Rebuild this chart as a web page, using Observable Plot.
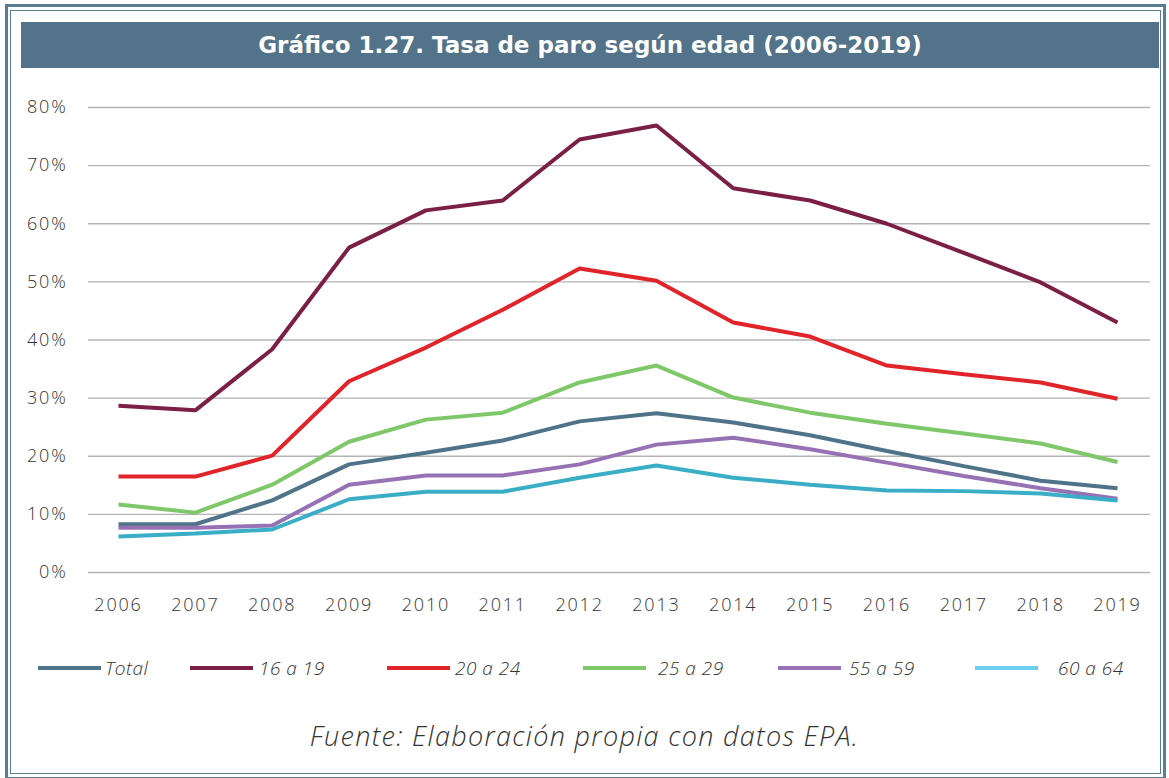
<!DOCTYPE html>
<html>
<head>
<meta charset="utf-8">
<script src="https://cdn.jsdelivr.net/npm/d3@7"></script>
<script src="https://cdn.jsdelivr.net/npm/@observablehq/plot@0.6"></script>
<style>
  html, body { margin: 0; padding: 0; background: #fff; }
  #page { position: relative; width: 1169px; height: 778px; overflow: hidden; font-family: "Open Sans", sans-serif; }
  #frame1 { position: absolute; left: 5px; top: 4px; width: 1161px; height: 776px; border: 3px solid #5b7d94; box-sizing: border-box; }
  #frame2 { position: absolute; left: 10px; top: 10px; width: 1151px; height: 764px; border: 1px solid #5b7d94; box-sizing: border-box; }
  #title { position: absolute; left: 21px; top: 22px; width: 1138px; height: 46px; background: #527389; color: #fff;
           font-family: "DejaVu Sans", sans-serif; font-weight: 700; font-size: 23px; line-height: 46px; text-align: center; }
  #chart { position: absolute; left: 0; top: 80px; }
  #legend { position: absolute; left: 0; top: 655px; width: 1169px; height: 26px; }
  .item { position: absolute; top: 0; height: 26px; display: flex; align-items: center; }
  .sw { width: 63px; height: 4px; }
  .lab { font-style: italic; font-weight: 300; font-size: 19px; color: #333; letter-spacing: 0.5px; }
  #caption { position: absolute; left: 0; top: 717px; width: 1169px; text-align: center; font-style: italic; font-weight: 300;
             font-size: 27px; letter-spacing: 1.3px; color: #333; }
</style>
</head>
<body>
<div id="page">
  <div id="frame1"></div>
  <div id="frame2"></div>
  <div id="title">Gráfico 1.27. Tasa de paro según edad (2006-2019)</div>
  <div id="chart"></div>
  <div id="legend"></div>
  <div id="caption">Fuente: Elaboración propia con datos EPA.</div>
</div>
<script>
const years = [2006, 2007, 2008, 2009, 2010, 2011, 2012, 2013, 2014, 2015, 2016, 2017, 2018, 2019];
const seriesNames = ["Total", "16 a 19", "20 a 24", "25 a 29", "55 a 59", "60 a 64"];
const total   = [8.3, 8.3, 12.4, 18.6, 20.6, 22.7, 26.0, 27.4, 25.8, 23.6, 20.9, 18.3, 15.8, 14.5];
const age1619 = [28.7, 27.9, 38.4, 55.9, 62.3, 64.0, 74.5, 76.9, 66.1, 64.0, 60.0, 55.0, 49.9, 43.0];
const age2024 = [16.5, 16.5, 20.1, 32.9, 38.7, 45.2, 52.3, 50.2, 43.0, 40.6, 35.6, 34.1, 32.7, 29.9];
const age2529 = [11.7, 10.3, 15.1, 22.5, 26.3, 27.5, 32.7, 35.6, 30.1, 27.5, 25.6, 23.9, 22.2, 19.0];
const age5559 = [7.7, 7.7, 8.1, 15.1, 16.7, 16.7, 18.6, 22.0, 23.2, 21.2, 18.9, 16.6, 14.5, 12.7];
const age6064 = [6.2, 6.7, 7.4, 12.6, 13.9, 13.9, 16.3, 18.4, 16.3, 15.1, 14.1, 14.0, 13.6, 12.4];
const yTicks = [0, 10, 20, 30, 40, 50, 60, 70, 80];

const lineColors = ["#4f7389", "#7b1f46", "#e1232a", "#7ec869", "#9672b5", "#3aadc7"];
const legendColors = ["#4f7389", "#7b1f46", "#e1232a", "#7ec869", "#9672b5", "#6dcff0"];

const seriesValues = [total, age1619, age2024, age2529, age5559, age6064];
const data = [];
seriesValues.forEach((vals, s) => vals.forEach((v, i) => data.push({serie: seriesNames[s], year: years[i], value: v})));

const plot = Plot.plot({
  width: 1169,
  height: 542,
  marginTop: 27,
  marginBottom: 50,
  marginLeft: 88,
  marginRight: 19,
  style: { fontFamily: "'Open Sans', sans-serif", fontSize: "18px", letterSpacing: "1.8px", color: "#333", background: "transparent" },
  x: { type: "linear", domain: [2006, 2019], range: [118, 1117], label: null },
  y: { domain: [0, 80], label: null },
  color: { domain: seriesNames, range: lineColors },
  marks: [
    Plot.ruleY(yTicks, { stroke: "#b3b3b3", strokeWidth: 1.3 }),
    Plot.axisY(yTicks, { tickSize: 0, tickPadding: 21, tickFormat: d => d + "%", fontWeight: 300, fill: "#333", label: null }),
    Plot.axisX(years, { tickSize: 0, tickPadding: 26, tickFormat: d => String(d), fontWeight: 300, fill: "#333", label: null }),
    Plot.line(data, { x: "year", y: "value", z: "serie", stroke: "serie", strokeWidth: 4, strokeLinejoin: "miter", strokeLinecap: "butt" })
  ]
});
document.getElementById("chart").appendChild(plot);

const legendLeft = [38, 190, 387, 583, 778, 975];
const legendGap = [4, 6, 5, 12, 8, 20];
const legend = document.getElementById("legend");
seriesNames.forEach((name, i) => {
  const item = document.createElement("div");
  item.className = "item";
  item.style.left = legendLeft[i] + "px";
  const sw = document.createElement("div");
  sw.className = "sw";
  sw.style.background = legendColors[i];
  const lab = document.createElement("span");
  lab.className = "lab";
  lab.style.marginLeft = legendGap[i] + "px";
  lab.textContent = name;
  item.appendChild(sw);
  item.appendChild(lab);
  legend.appendChild(item);
});
</script>
</body>
</html>
